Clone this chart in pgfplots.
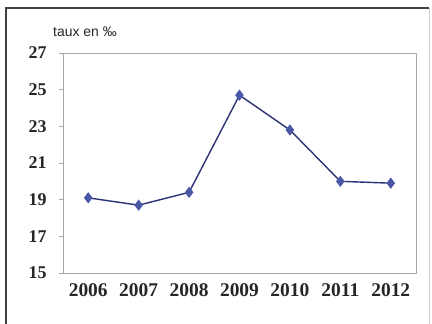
\documentclass[border=0pt]{standalone}
\usepackage{fontspec}
\setmainfont{Liberation Serif}
\setsansfont{Liberation Sans}
\usepackage{pgfplots}
\pgfplotsset{compat=1.18}
\definecolor{lineC}{HTML}{2B3275}
\definecolor{markC}{HTML}{4A56A6}
\begin{document}
\begin{tikzpicture}[x=1bp,y=1bp]
\path[use as bounding box] (0,0) rectangle (432,324);
\fill[white] (0,0) rectangle (432,324);
\draw[gray!40, line width=0.8bp] (429,0) -- (429,316);
\draw[black!75, line width=1.8bp] (6,0) -- (6,316) -- (429,316);
\node[anchor=base west, font=\sffamily\fontsize{14}{14}\selectfont, text=black!85, inner sep=0pt] at (53,288) {taux en ‰};
\begin{axis}[
  at={(63bp,51bp)}, anchor=south west,
  scale only axis, width=353bp, height=220bp,
  xmin=-0.5, xmax=6.5, ymin=15, ymax=27,
  xtick={0,...,6},
  xticklabels={2006,2007,2008,2009,2010,2011,2012},
  ytick={15,17,...,27},
  /pgf/number format/assume math mode=true,
  ticklabel style={text=black!85},
  x tick label style={font=\bfseries\fontsize{19.5}{19.5}\selectfont, yshift=-7bp},
  y tick label style={font=\bfseries\fontsize{18}{18}\selectfont, xshift=-9bp},
  axis line style={gray!70, line width=0.8bp},
  tick style={gray!70, line width=0.6bp},
  xtick style={draw=none},
  ytick align=outside, ytick pos=left,
  major tick length=4bp,
  clip=false,
]
\addplot[lineC, line width=1.4bp, mark=diamond*, mark size=4.5bp, mark options={fill=markC, draw=markC}]
  coordinates {(0,19.1) (1,18.7) (2,19.4) (3,24.7) (4,22.8) (5,20.0) (6,19.9)};
\end{axis}
\end{tikzpicture}
\end{document}
